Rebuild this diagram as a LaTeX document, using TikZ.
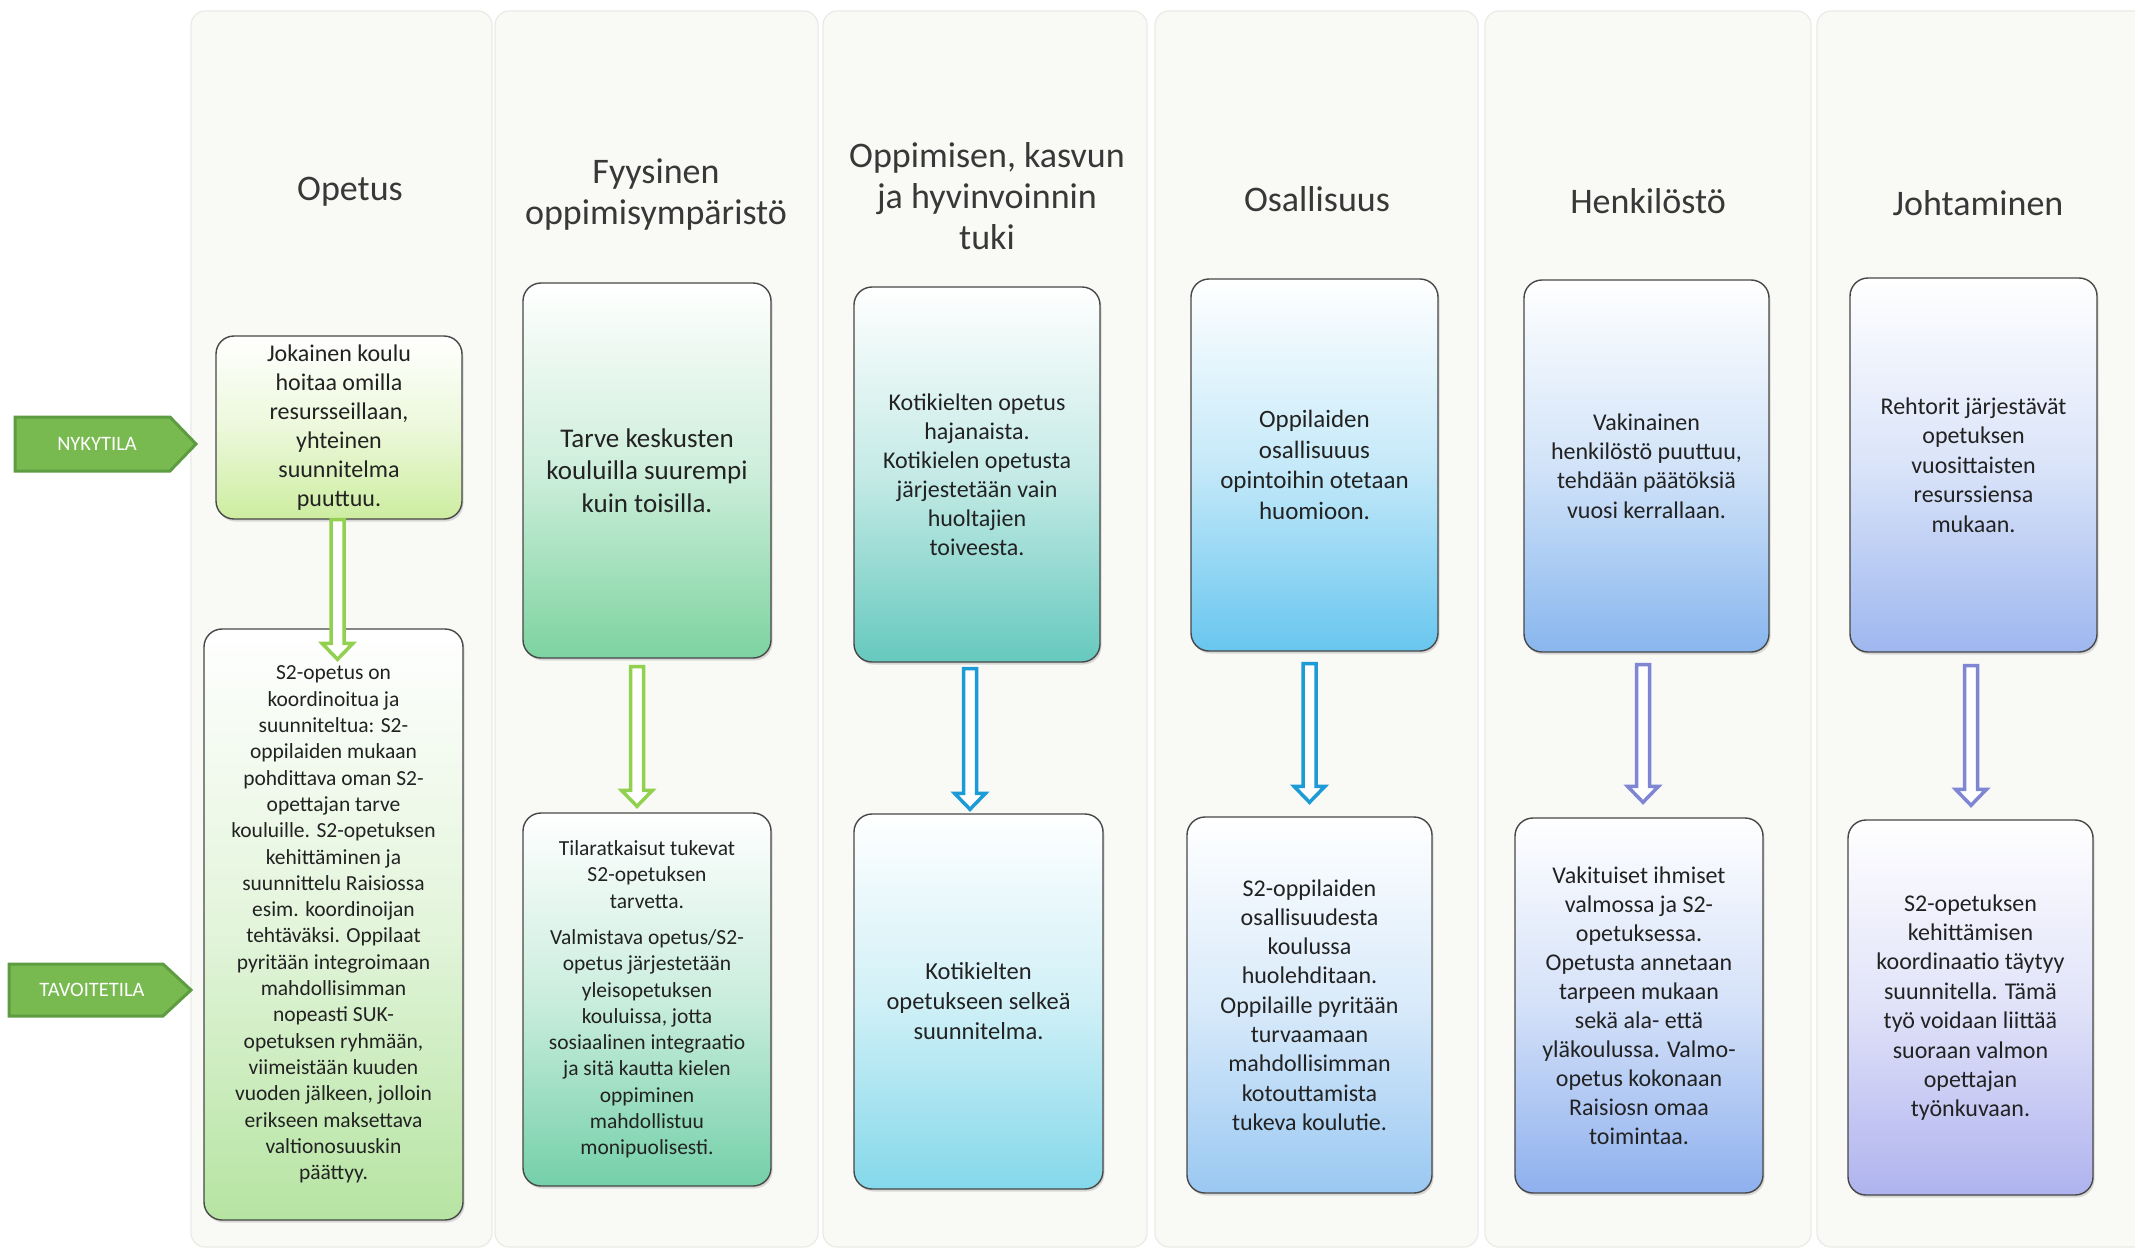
\documentclass[tikz,border=0pt]{standalone}
\usepackage{fontspec}
\setmainfont{Carlito}
\usetikzlibrary{calc,shadows}
\definecolor{panelfill}{HTML}{F9F9F6}
\definecolor{panelline}{HTML}{EAEAE6}
\definecolor{boxline}{HTML}{474747}
\definecolor{bodytext}{HTML}{222222}
\definecolor{headtext}{HTML}{383838}
\definecolor{tagfill}{HTML}{78B950}
\definecolor{tagline}{HTML}{5E9C42}
\definecolor{arrgreen}{HTML}{92D050}
\definecolor{arrblue}{HTML}{1C9BD6}
\definecolor{arrpurple}{HTML}{7F87D4}
\definecolor{cA}{HTML}{CDEDA0}
\definecolor{cAb}{HTML}{B6E4A2}
\definecolor{cB}{HTML}{7DD3A0}
\definecolor{cBb}{HTML}{74D0A8}
\definecolor{cC}{HTML}{66C9BE}
\definecolor{cCb}{HTML}{84D8EA}
\definecolor{cD}{HTML}{68C6EF}
\definecolor{cDb}{HTML}{9AC8F2}
\definecolor{cE}{HTML}{88B6EE}
\definecolor{cEb}{HTML}{8EB0EE}
\definecolor{cF}{HTML}{9EB7EF}
\definecolor{cFb}{HTML}{AFB3EE}
\newcommand\hollowdown[3]{%
  \draw[hollow=#3] let \p1=(#1), \p2=(#2) in
   (\x2-6.5pt,\y1) -- (\x2-6.5pt,\y2+16pt) -- (\x2-15.5pt,\y2+16pt) -- (\x2,\y2)
   -- (\x2+15.5pt,\y2+16pt) -- (\x2+6.5pt,\y2+16pt) -- (\x2+6.5pt,\y1) -- cycle;}
\begin{document}
\begin{tikzpicture}[x=1pt,y=-1pt,
  panel/.style={fill=panelfill, draw=panelline, line width=1.2pt, rounded corners=14pt},
  card/.style={draw=boxline, line width=1.4pt, rounded corners=18pt, align=center,
     text=bodytext, inner sep=3pt,
     drop shadow={opacity=0.28, shadow xshift=1.5pt, shadow yshift=-2.5pt}},
  shadecard/.style={top color=white, bottom color=#1, middle color=#1!38!white},
  colhead/.style={align=center, text=headtext, font=\fontsize{36}{41}\selectfont},
  hollow/.style={draw=#1, line width=3.5pt, fill=white, line join=miter},
  tagtext/.style={text=white, font=\fontsize{20.5}{24}\selectfont},
  tagshape/.style={fill=tagfill, draw=tagline, line width=3pt, line join=miter}
]
\useasboundingbox[fill=white] (0,0) rectangle (2135,1258);
% column panels
\path[panel] (191,11) rectangle (492,1247);
\path[panel] (495,11) rectangle (818,1247);
\path[panel] (823,11) rectangle (1147,1247);
\path[panel] (1155,11) rectangle (1478,1247);
\path[panel] (1485,11) rectangle (1811,1247);
\path[panel] (1817,11) rectangle (2150,1247);

% headings
\node[colhead] (h1) at (350,192) {Opetus};
\node[colhead] (h2) at (656,194.5) {Fyysinen\\oppimisympäristö};
\node[colhead] (h3) at (987,196) {Oppimisen, kasvun\\ja hyvinvoinnin\\tuki};
\node[colhead] (h4) at (1317,199) {Osallisuus};
\node[colhead] (h5) at (1648,201) {Henkilöstö};
\node[colhead] (h6) at (1978,203) {Johtaminen};

% top boxes (nykytila)
\node[card, shadecard=cA, minimum width=246pt, minimum height=183pt, font=\fontsize{24}{29}\selectfont]
  (t1) at (339,427.5) {Jokainen koulu\\hoitaa omilla\\resursseillaan,\\yhteinen\\suunnitelma\\puuttuu.};
\node[card, shadecard=cB, minimum width=248pt, minimum height=375pt, font=\fontsize{27}{32.7}\selectfont]
  (t2) at (647,470.5) {Tarve keskusten\\kouluilla suurempi\\kuin toisilla.};
\node[card, shadecard=cC, minimum width=246pt, minimum height=375pt, font=\fontsize{24}{29}\selectfont]
  (t3) at (977,474.5) {Kotikielten opetus\\hajanaista.\\Kotikielen opetusta\\järjestetään vain\\huoltajien\\toiveesta.};
\node[card, shadecard=cD, minimum width=247pt, minimum height=372pt, font=\fontsize{25}{30.4}\selectfont]
  (t4) at (1314.5,465) {Oppilaiden\\osallisuuus\\opintoihin otetaan\\huomioon.};
\node[card, shadecard=cE, minimum width=245pt, minimum height=372pt, font=\fontsize{24}{29.4}\selectfont]
  (t5) at (1646.5,466) {Vakinainen\\henkilöstö puuttuu,\\tehdään päätöksiä\\vuosi kerrallaan.};
\node[card, shadecard=cF, minimum width=247pt, minimum height=374pt, font=\fontsize{24}{29.5}\selectfont]
  (t6) at (1973.5,465) {Rehtorit järjestävät\\opetuksen\\vuosittaisten\\resurssiensa\\mukaan.};

% bottom boxes (tavoitetila)
\node[card, shadecard=cAb, minimum width=259pt, minimum height=591pt, font=\fontsize{21.5}{26.3}\selectfont]
  (b1) at (333.5,924.5) {S2-opetus on\\koordinoitua ja\\suunniteltua: S2-\\oppilaiden mukaan\\pohdittava oman S2-\\opettajan tarve\\kouluille. S2-opetuksen\\kehittäminen ja\\suunnittelu Raisiossa\\esim. koordinoijan\\tehtäväksi. Oppilaat\\pyritään integroimaan\\mahdollisimman\\nopeasti SUK-\\opetuksen ryhmään,\\viimeistään kuuden\\vuoden jälkeen, jolloin\\erikseen maksettava\\valtionosuuskin\\päättyy.};
\node[card, shadecard=cBb, minimum width=248pt, minimum height=373pt, font=\fontsize{21.5}{26.3}\selectfont]
  (b2) at (647,999.5) {Tilaratkaisut tukevat\\S2-opetuksen\\tarvetta.\\[10pt]Valmistava opetus/S2-\\opetus järjestetään\\yleisopetuksen\\kouluissa, jotta\\sosiaalinen integraatio\\ja sitä kautta kielen\\oppiminen\\mahdollistuu\\monipuolisesti.};
\node[card, shadecard=cCb, minimum width=249pt, minimum height=375pt, font=\fontsize{24.5}{30}\selectfont]
  (b3) at (978.5,1001.5) {Kotikielten\\opetukseen selkeä\\suunnitelma.};
\node[card, shadecard=cDb, minimum width=245pt, minimum height=376pt, font=\fontsize{24}{29.3}\selectfont]
  (b4) at (1309.5,1005) {S2-oppilaiden\\osallisuudesta\\koulussa\\huolehditaan.\\Oppilaille pyritään\\turvaamaan\\mahdollisimman\\kotouttamista\\tukeva koulutie.};
\node[card, shadecard=cEb, minimum width=248pt, minimum height=375pt, font=\fontsize{24}{29}\selectfont]
  (b5) at (1639,1005.5) {Vakituiset ihmiset\\valmossa ja S2-\\opetuksessa.\\Opetusta annetaan\\tarpeen mukaan\\sekä ala- että\\yläkoulussa. Valmo-\\opetus kokonaan\\Raisiosn omaa\\toimintaa.};
\node[card, shadecard=cFb, minimum width=245pt, minimum height=375pt, font=\fontsize{24}{29.4}\selectfont]
  (b6) at (1970.5,1007.5) {S2-opetuksen\\kehittämisen\\koordinaatio täytyy\\suunnitella. Tämä\\työ voidaan liittää\\suoraan valmon\\opettajan\\työnkuvaan.};

% arrow end points
\coordinate (a1s) at ($(t1.south)+(-1.5,0)$);
\coordinate (a1e) at ($(b1.north)+(4,31)$);
\coordinate (a2s) at ($(t2.south)+(-10,8)$);
\coordinate (a2e) at ($(b2.north)+(-10,-6)$);
\coordinate (a3s) at ($(t3.south)+(-7,6)$);
\coordinate (a3e) at ($(b3.north)+(-8.5,-4)$);
\coordinate (a4s) at ($(t4.south)+(-5,12)$);
\coordinate (a4e) at ($(b4.north)+(0,-14)$);
\coordinate (a5s) at ($(t5.south)+(-3.5,12)$);
\coordinate (a5e) at ($(b5.north)+(4,-15)$);
\coordinate (a6s) at ($(t6.south)+(-2.5,13)$);
\coordinate (a6e) at ($(b6.north)+(0.5,-14)$);
\hollowdown{a1s}{a1e}{arrgreen}
\hollowdown{a2s}{a2e}{arrgreen}
\hollowdown{a3s}{a3e}{arrblue}
\hollowdown{a4s}{a4e}{arrblue}
\hollowdown{a5s}{a5e}{arrpurple}
\hollowdown{a6s}{a6e}{arrpurple}

% state tags
\path[tagshape] (15,417) -- (170,417) -- (196,444) -- (170,471) -- (15,471) -- cycle;
\node[tagtext] (nyk) at (97,444) {NYKYTILA};
\path[tagshape] (9,964) -- (163,964) -- (191,990) -- (163,1016) -- (9,1016) -- cycle;
\node[tagtext] (tav) at (92,990) {TAVOITETILA};
\end{tikzpicture}
\end{document}
